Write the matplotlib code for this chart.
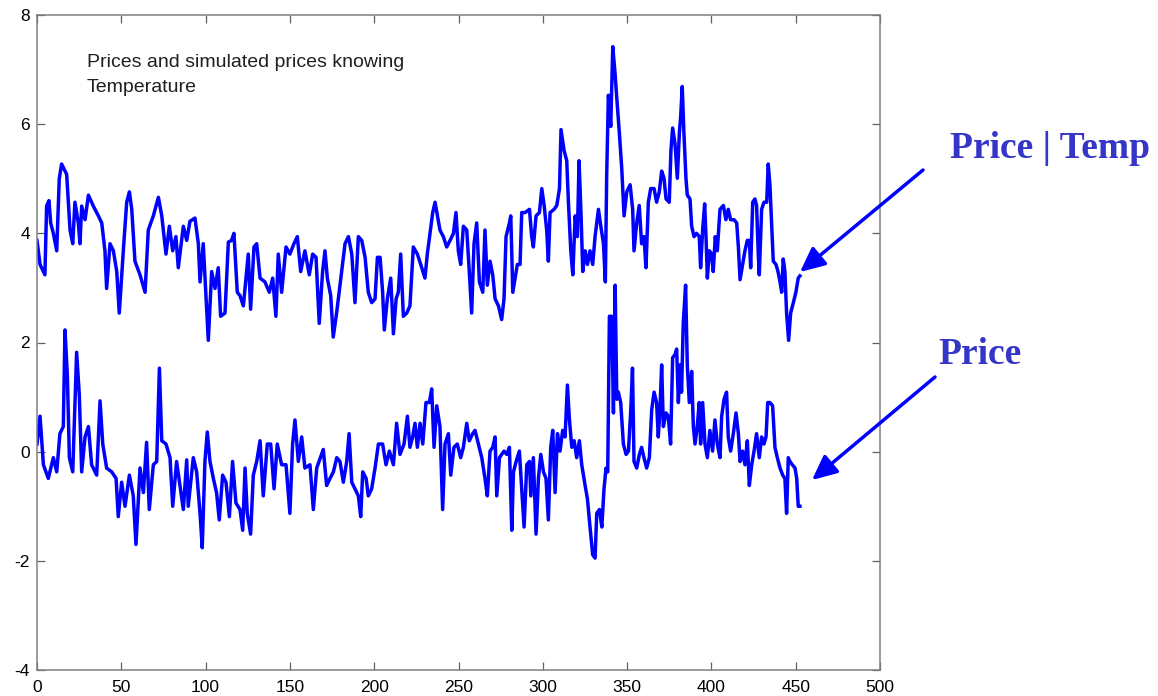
import matplotlib
matplotlib.use("Agg")
import matplotlib.pyplot as plt

# simulated price given temperature (upper curve)
price_temp = [
    (0, 3.87), (1.8, 3.43), (4.7, 3.24), (5.7, 4.50), (7.1, 4.60), (8.1, 4.19), (9.7, 4.00), (11.7, 3.68),
    (13.2, 5.00), (14.6, 5.27), (17.6, 5.08), (19.6, 4.06), (21.2, 3.81), (22.5, 4.57), (24.5, 4.19),
    (25.5, 3.81), (26.5, 4.50), (28.5, 4.25), (30.5, 4.70), (33.4, 4.50), (36.4, 4.32), (38.4, 4.19),
    (40.3, 3.68), (41.3, 2.99), (43.3, 3.81), (45.3, 3.68), (47.3, 3.30), (48.8, 2.54), (51.2, 3.68),
    (53.2, 4.57), (54.8, 4.76), (56.2, 4.44), (58.1, 3.49), (61.1, 3.24), (64.1, 2.92), (66.0, 4.06),
    (69.0, 4.32), (72.0, 4.66), (74.0, 4.32), (76.5, 3.62), (78.5, 4.13), (80.5, 3.68), (82.4, 3.94),
    (83.8, 3.37), (86.8, 4.13), (88.8, 3.87), (90.7, 4.22), (93.7, 4.28), (95.7, 3.81), (96.7, 3.11),
    (98.6, 3.81), (101.6, 2.04), (103.6, 3.30), (105.6, 2.99), (107.5, 3.37), (108.9, 2.48), (111.5, 2.54),
    (113.5, 3.84), (115.4, 3.87), (116.8, 4.00), (118.8, 2.92), (120.4, 2.86), (122.4, 2.67), (124.3, 3.30),
    (125.3, 3.62), (126.7, 2.61), (128.7, 3.75), (130.3, 3.81), (132.3, 3.18), (135.2, 3.11), (137.8, 2.92),
    (139.8, 3.18), (141.7, 2.48), (143.1, 3.62), (145.1, 2.92), (147.7, 3.75), (150.0, 3.62), (152.4, 3.81),
    (154.4, 3.94), (156.4, 3.30), (158.9, 3.68), (161.5, 3.24), (163.5, 3.62), (165.5, 3.56), (167.4, 2.35),
    (169.4, 3.30), (170.8, 3.68), (172.2, 3.18), (174.2, 2.86), (175.7, 2.10), (177.7, 2.54), (180.7, 3.30),
    (182.7, 3.81), (184.7, 3.94), (186.7, 3.62), (188.6, 2.73), (190.6, 3.94), (192.6, 3.87), (194.6, 3.56),
    (196.5, 2.92), (198.5, 2.73), (200.5, 2.80), (201.9, 3.56), (203.5, 3.56), (205.0, 2.92), (206.0, 2.23),
    (207.8, 2.80), (209.8, 3.18), (211.4, 2.16), (213.0, 2.80), (214.3, 2.92), (215.7, 3.62), (217.3, 2.48),
    (219.3, 2.54), (221.2, 2.67), (223.2, 3.75), (225.6, 3.62), (227.6, 3.43), (230.1, 3.18), (231.5, 3.62),
    (233.1, 4.00), (234.7, 4.38), (236.1, 4.57), (237.5, 4.32), (239.0, 4.06), (241.0, 3.94), (243.0, 3.75),
    (245.0, 3.87), (247.0, 4.00), (248.5, 4.38), (249.9, 3.68), (251.3, 3.43), (252.9, 4.13), (254.9, 4.06),
    (256.4, 3.30), (257.8, 2.54), (259.2, 3.81), (260.8, 4.19), (262.4, 3.11), (264.4, 2.92), (265.7, 4.06),
    (267.1, 3.05), (268.7, 3.49), (270.3, 3.24), (271.7, 2.80), (273.7, 2.67), (275.6, 2.42), (277.0, 2.80),
    (278.2, 3.94), (280.2, 4.19), (281.0, 4.32), (282.2, 2.92), (283.6, 3.18), (284.9, 3.43), (286.5, 3.43),
    (287.5, 4.38), (289.5, 4.38), (292.1, 4.44), (293.4, 3.94), (294.4, 3.75), (296.0, 4.32), (298.0, 4.38),
    (299.4, 4.82), (300.8, 4.51), (302.3, 4.06), (303.3, 3.49), (304.3, 4.38), (306.7, 4.44), (308.3, 4.51),
    (309.9, 4.82), (310.8, 5.90), (312.6, 5.52), (314.2, 5.33), (315.2, 4.57), (316.6, 3.68), (317.8, 3.24),
    (319.2, 4.32), (320.5, 3.94), (321.5, 5.33), (322.7, 4.32), (323.7, 3.30), (325.1, 3.68), (326.5, 3.43),
    (328.0, 3.68), (329.6, 3.43), (331.0, 3.94), (333.0, 4.44), (334.4, 4.13), (336.0, 3.81), (337.1, 3.11),
    (337.9, 5.08), (338.9, 6.53), (340.3, 5.96), (341.5, 7.42), (342.9, 6.91), (343.9, 6.47), (345.4, 5.84),
    (346.8, 5.20), (348.2, 4.32), (349.8, 4.76), (351.8, 4.89), (353.3, 4.44), (354.1, 3.68), (355.7, 4.19),
    (357.2, 4.51), (358.6, 3.81), (360.0, 3.94), (361.2, 3.37), (362.6, 4.57), (364.0, 4.82), (366.0, 4.82),
    (367.5, 4.57), (369.1, 4.76), (370.5, 5.14), (371.9, 5.01), (373.1, 4.63), (375.0, 4.57), (376.0, 5.52),
    (377.0, 5.93), (378.4, 5.65), (379.8, 5.01), (381.0, 5.84), (381.8, 6.15), (382.7, 6.69), (383.7, 5.84),
    (384.9, 5.01), (385.7, 4.70), (387.3, 4.63), (388.3, 4.13), (389.7, 3.94), (391.2, 4.00), (392.8, 3.94),
    (393.6, 3.37), (394.8, 4.06), (396.0, 4.54), (396.8, 3.94), (397.6, 3.18), (398.8, 3.68), (400.1, 3.62),
    (401.1, 3.30), (402.3, 3.94), (403.5, 3.68), (405.1, 4.44), (407.1, 4.51), (408.6, 4.25), (410.0, 4.44),
    (411.4, 4.25), (413.4, 4.25), (415.0, 4.19), (416.0, 3.75), (417.0, 3.15), (418.5, 3.43), (419.9, 3.68),
    (421.3, 3.87), (422.5, 3.87), (423.3, 3.37), (424.5, 4.57), (425.8, 4.63), (426.8, 4.51), (427.8, 3.62),
    (428.4, 3.24), (429.8, 4.44), (431.2, 4.57), (432.8, 4.57), (433.7, 5.27), (434.7, 4.89), (435.7, 4.19),
    (436.7, 3.49), (438.3, 3.43), (439.5, 3.30), (440.7, 3.11), (441.7, 2.92), (442.6, 3.53), (443.6, 3.30),
    (444.6, 2.54), (445.8, 2.04), (447.0, 2.54), (448.6, 2.73), (450.1, 2.92), (451.5, 3.18), (452.5, 3.22),
]

# observed price (lower curve)
price = [
    (0, 0.14), (1.8, 0.65), (3.8, -0.24), (6.7, -0.49), (9.7, -0.11), (11.7, -0.37), (13.6, 0.33), (15.6, 0.46),
    (16.6, 2.23), (18.0, 1.40), (19.2, -0.11), (21.2, -0.37), (23.5, 1.82), (25.1, 1.03), (26.5, -0.37),
    (28.5, 0.27), (30.5, 0.46), (32.4, -0.24), (35.4, -0.43), (37.4, 0.93), (39.0, 0.14), (41.3, -0.30),
    (44.3, -0.37), (46.9, -0.49), (48.2, -1.19), (50.2, -0.56), (52.2, -1.00), (54.8, -0.43), (57.1, -0.81),
    (58.7, -1.70), (61.1, -0.30), (63.1, -0.75), (65.0, 0.17), (66.6, -1.06), (69.0, -0.24), (71.0, -0.18),
    (72.6, 1.53), (74.0, 0.20), (76.5, 0.14), (78.9, -0.11), (80.5, -1.00), (82.8, -0.18), (86.8, -1.06),
    (88.8, -0.15), (89.7, -1.00), (92.7, -0.11), (94.7, -0.37), (96.7, -1.13), (98.0, -1.76), (99.6, -0.18),
    (101.0, 0.36), (102.6, -0.18), (104.6, -0.49), (106.5, -0.75), (108.1, -1.25), (110.1, -0.43),
    (112.1, -0.56), (114.1, -1.19), (116.0, -0.18), (118.0, -0.94), (120.4, -1.06), (122.0, -1.44),
    (123.4, -0.30), (124.7, -1.13), (126.7, -1.51), (128.3, -0.43), (130.3, -0.18), (132.3, 0.20),
    (134.2, -0.81), (136.6, 0.14), (138.6, 0.14), (140.6, -0.68), (142.5, 0.14), (145.1, -0.24),
    (147.7, -0.24), (150.0, -1.13), (151.6, 0.14), (153.0, 0.58), (155.0, -0.18), (157.0, 0.27),
    (158.9, -0.30), (161.9, -0.24), (163.9, -1.06), (165.9, -0.30), (169.8, 0.04), (171.8, -0.62),
    (173.8, -0.49), (175.8, -0.37), (177.8, -0.11), (179.7, -0.18), (181.7, -0.56), (183.7, -0.18),
    (185.1, 0.33), (186.7, -0.56), (188.6, -0.68), (190.6, -0.81), (192.0, -1.19), (193.2, -0.37),
    (195.2, -0.49), (196.5, -0.81), (198.5, -0.68), (200.5, -0.30), (202.5, 0.14), (205.0, 0.14),
    (207.0, -0.24), (209.0, 0.01), (211.4, -0.24), (213.3, 0.52), (215.3, -0.05), (217.7, 0.14),
    (219.7, 0.65), (221.2, 0.08), (222.8, 0.27), (224.2, 0.52), (225.6, 0.08), (227.2, 0.52), (228.8, 0.14),
    (230.7, 0.90), (232.7, 0.90), (234.1, 1.15), (235.5, 0.08), (237.1, 0.84), (239.0, 0.46), (240.6, -1.06),
    (242.0, 0.14), (244.0, 0.33), (245.4, -0.43), (247.3, 0.08), (249.3, 0.14), (251.3, -0.11), (252.9, 0.08),
    (254.9, 0.52), (256.4, 0.20), (258.4, 0.33), (259.8, 0.39), (261.8, 0.14), (263.8, -0.11), (265.7, -0.49),
    (267.1, -0.81), (268.7, 0.01), (270.3, 0.08), (271.7, 0.27), (272.7, -0.81), (274.3, -0.11), (275.6, -0.05),
    (277.0, 0.01), (278.6, -0.05), (280.2, 0.08), (281.6, -1.44), (282.6, -0.37), (284.2, -0.18), (286.1, 0.01),
    (287.5, -0.68), (288.9, -1.38), (290.5, -0.24), (292.1, -0.18), (292.9, -0.81), (294.4, -0.11),
    (296.0, -1.51), (297.4, -0.49), (298.8, -0.05), (300.4, -0.37), (301.9, -0.49), (303.3, -1.25),
    (304.7, 0.08), (305.9, 0.39), (307.3, -0.75), (308.7, 0.33), (310.2, 0.01), (311.8, 0.39), (313.2, 0.27),
    (314.6, 1.22), (315.8, 0.58), (317.2, 0.08), (318.6, 0.20), (320.1, -0.11), (321.7, 0.20), (323.1, -0.24),
    (325.1, -0.62), (326.5, -0.87), (328.0, -1.38), (329.6, -1.89), (331.0, -1.95), (332.0, -1.13),
    (333.6, -1.06), (335.0, -1.38), (336.3, -0.68), (337.5, -0.30), (338.5, -0.37), (339.5, 2.48),
    (340.9, 2.48), (341.9, 0.71), (342.9, 3.05), (343.9, 0.96), (344.8, 1.09), (346.2, 0.90), (347.8, 0.14),
    (349.4, -0.05), (350.8, 0.01), (352.2, 0.77), (353.2, 1.53), (354.1, -0.18), (355.7, -0.30), (357.3, -0.05),
    (358.6, 0.08), (360.0, -0.11), (361.6, -0.30), (363.2, -0.11), (364.6, 0.77), (366.0, 1.09), (367.5, 0.90),
    (368.5, 0.27), (369.5, 0.77), (370.5, 1.59), (371.5, 0.46), (373.1, 0.71), (374.4, 0.65), (375.8, 0.14),
    (377.0, 1.72), (378.4, 1.78), (379.4, 1.88), (380.4, 0.90), (381.4, 1.59), (382.3, 1.09), (383.3, 2.35),
    (384.7, 3.05), (385.7, 1.59), (386.9, 0.90), (388.3, 1.47), (389.3, 0.46), (390.3, 0.14), (391.6, 0.46),
    (392.8, 0.90), (393.6, 0.14), (394.8, 0.90), (396.2, 0.14), (397.6, -0.11), (399.1, 0.39), (400.7, 0.01),
    (402.1, 0.58), (403.5, 0.14), (405.1, -0.11), (406.1, 0.65), (407.5, 0.96), (409.0, 1.09), (410.0, 0.27),
    (411.4, 0.01), (413.0, 0.33), (414.6, 0.71), (416.0, 0.33), (417.0, -0.18), (418.5, 0.01), (419.9, -0.24),
    (421.3, 0.20), (422.5, -0.62), (423.9, -0.24), (425.3, 0.01), (426.8, 0.33), (428.4, -0.11), (429.8, 0.27),
    (431.2, 0.14), (432.4, 0.27), (433.4, 0.90), (434.7, 0.90), (436.3, 0.84), (437.7, 0.08), (439.1, -0.11),
    (440.7, -0.30), (442.3, -0.43), (443.6, -0.49), (444.6, -1.13), (445.6, -0.11), (446.6, -0.18),
    (448.0, -0.24), (449.6, -0.30), (450.6, -0.49), (451.5, -1.00), (452.5, -1.00),
]

xticks = [0, 50, 100, 150, 200, 250, 300, 350, 400, 450, 500]
yticks = [-4, -2, 0, 2, 4, 6, 8]
note = "Prices and simulated prices knowing\nTemperature"
label_upper = "Price | Temp"
label_lower = "Price"

plt.rcParams["font.family"] = ["Liberation Sans", "DejaVu Sans"]
plt.rcParams["axes.unicode_minus"] = False

fig = plt.figure(figsize=(11.58, 6.96), dpi=100)
ax = fig.add_axes([37 / 1158, 1 - 670 / 696, (880 - 37) / 1158, (670 - 15) / 696])

tx, ty = zip(*price_temp)
px, py = zip(*price)
ax.plot(tx, ty, color="#0000ff", lw=2.5)
ax.plot(px, py, color="#0000ff", lw=2.5)

ax.set_xlim(0, 500)
ax.set_ylim(-4, 8)
ax.set_xticks(xticks)
ax.set_yticks(yticks)
ax.tick_params(direction="in", length=6, width=0.9, color="#606060",
               labelsize=12.5, top=True, right=True)
ax.tick_params(axis="x", pad=7)
ax.tick_params(axis="y", pad=5)
for s in ax.spines.values():
    s.set_color("#808080")
    s.set_linewidth(1.1)

ax.text(0.059, 0.940, note, transform=ax.transAxes, fontsize=14, va="top",
        ha="left", color="#202020", linespacing=1.6)

# labels and arrows outside the axes
serif = ["Liberation Serif", "DejaVu Serif"]
fig.text(950 / 1158, 1 - 149 / 696, label_upper, family=serif, fontweight="bold",
         fontsize=27, color="#3535c8", ha="left", va="center")
fig.text(938 / 1158, 1 - 354 / 696, label_lower, family=serif, fontweight="bold",
         fontsize=27, color="#3535c8", ha="left", va="center")

arrow = dict(arrowstyle="-|>,head_length=1.5,head_width=0.7", color="#0000ff", lw=2.5,
             shrinkA=0, shrinkB=0)
fig.add_artist(plt.Annotation("", xy=(800 / 1158, 1 - 272 / 696), xytext=(923 / 1158, 1 - 170 / 696),
                              xycoords="figure fraction", textcoords="figure fraction",
                              arrowprops=arrow))
fig.add_artist(plt.Annotation("", xy=(812 / 1158, 1 - 480 / 696), xytext=(935 / 1158, 1 - 377 / 696),
                              xycoords="figure fraction", textcoords="figure fraction",
                              arrowprops=arrow))

fig.savefig("out.png", dpi=100)
